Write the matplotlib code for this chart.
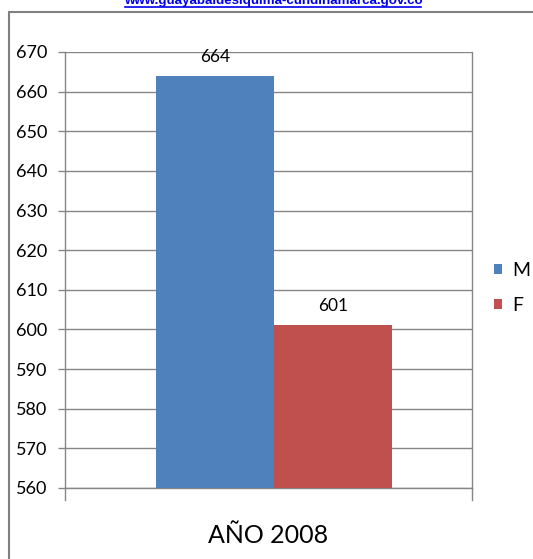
import matplotlib
matplotlib.use('Agg')
import matplotlib.pyplot as plt
from matplotlib.patches import Rectangle
from matplotlib.lines import Line2D

categories = ['AÑO 2008']
series_names = ['M', 'F']
values_m = [664]
values_f = [601]
colors = ['#4F81BD', '#C0504D']
yticks = list(range(560, 680, 10))

plt.rcParams['font.family'] = ['Lato', 'DejaVu Sans']

fig = plt.figure(figsize=(5.33, 5.59), dpi=100)
ax = fig.add_axes([65/533, 1 - 488/559, 407/533, 436/559])

# borde del grafico (sale por la derecha y por abajo)
fig.patches.append(Rectangle((9/533, -0.1), 1.2, 1 - 12/559 + 0.1,
                             transform=fig.transFigure, fill=False,
                             edgecolor='#808080', linewidth=1.5))

# enlace arriba, cortado como en la imagen
fig.text(273/533, 1 - 4/559, 'www.guayabaldesiquima-cundinamarca.gov.co',
         ha='center', va='baseline', color='#0000EE', fontsize=9.6,
         fontweight='bold', family='Liberation Sans')
fig.add_artist(Line2D([125/533, 421/533], [1 - 7/559, 1 - 7/559],
                      transform=fig.transFigure, color='#0000EE', lw=1.2))

width = 0.29
x0 = 0.013
b1 = ax.bar(x0 - width/2, values_m, width, color=colors[0], label=series_names[0], zorder=3)
b2 = ax.bar(x0 + width/2, values_f, width, color=colors[1], label=series_names[1], zorder=3)

ax.set_xlim(-0.5, 0.5)
ax.set_ylim(560, 670)
ax.set_yticks(yticks)
ax.yaxis.grid(True, color='#868686', linewidth=1)
ax.set_axisbelow(True)
ax.tick_params(axis='y', length=5, width=1, color='#868686', labelsize=13, pad=8)
ax.set_xticks([])
ax.spines['top'].set_visible(False)
for s in ['left', 'right', 'bottom']:
    ax.spines[s].set_color('#868686')
    ax.spines[s].set_linewidth(1)
# marcas de categoria en los extremos
for xx in [-0.5, 0.5]:
    ax.plot([xx, xx], [560, 557], color='#868686', lw=1, clip_on=False)

ax.bar_label(b1, padding=8, fontsize=12.5)
ax.bar_label(b2, padding=8, fontsize=12.5)

ax.text(0.5, -0.11, categories[0], transform=ax.transAxes, ha='center',
        va='center', fontsize=18)

fig.legend(handles=[b1, b2], loc='center left',
           bbox_to_anchor=(484/533, 1 - 288/559), frameon=False,
           fontsize=14, handlelength=0.4, handleheight=0.4,
           handletextpad=0.55, labelspacing=0.9, borderpad=0)

fig.savefig('out.png', dpi=100)
